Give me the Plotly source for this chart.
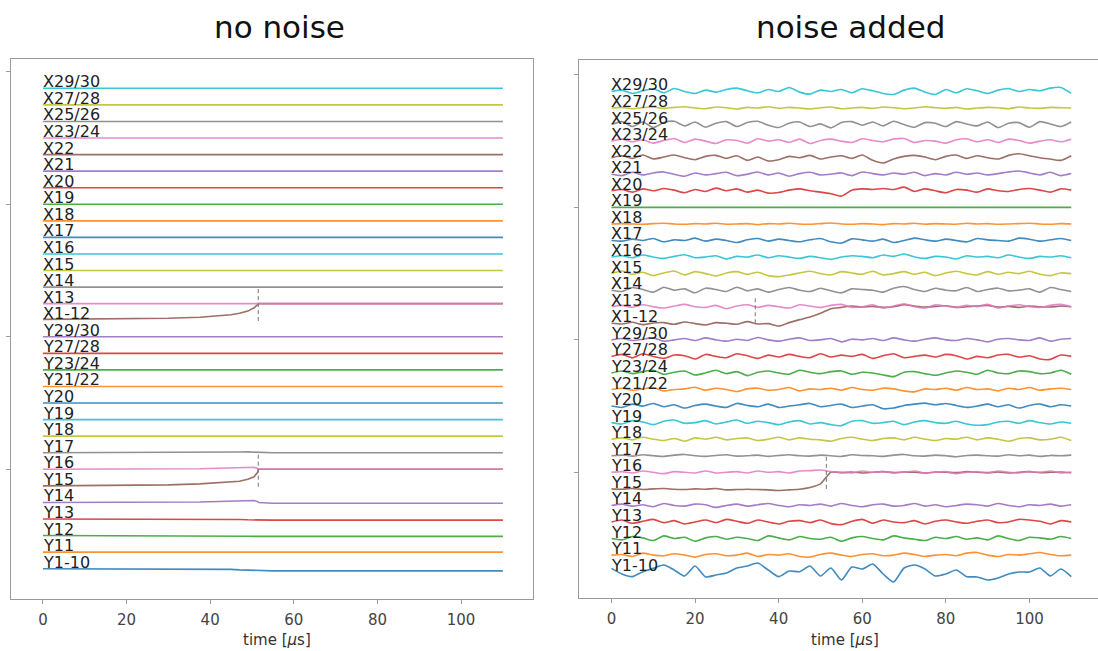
import plotly.graph_objects as go

# ---------------- data ----------------
labels = ["Y1-10", "Y11", "Y12", "Y13", "Y14", "Y15", "Y16", "Y17", "Y18", "Y19",
          "Y20", "Y21/22", "Y23/24", "Y27/28", "Y29/30", "X1-12", "X13", "X14", "X15", "X16",
          "X17", "X18", "X19", "X20", "X21", "X22", "X23/24", "X25/26", "X27/28", "X29/30"]

x_ticks = [0, 20, 40, 60, 80, 100]
y_ticks = [6, 14, 22, 30]

# ---- "no noise" panel (offset from each channel's baseline, in trace-spacing units)
t_clean = [0, 20, 30, 37.5, 42, 45, 47, 49, 50.5, 51.3, 51.6, 55, 110]
clean_flat = [0, 0, 0, 0, 0, 0, 0, 0, 0, 0, 0, 0, 0]
clean_Y1_10 = [0, 0, 0, 0, -0.02, -0.04, -0.07, -0.09, -0.11, -0.12, -0.12, -0.13, -0.13]
clean_Y12 = [0, 0, 0, 0, -0.01, -0.02, -0.03, -0.04, -0.05, -0.05, -0.05, -0.05, -0.05]
clean_Y13 = [0, 0, 0, 0, -0.01, -0.02, -0.03, -0.05, -0.06, -0.07, -0.07, -0.07, -0.07]
clean_Y14 = [0, 0, 0.01, 0.03, 0.06, 0.08, 0.12, 0.15, 0.12, 0.05, 0.0, -0.05, -0.05]
clean_Y15 = [0.0, 0.03, 0.06, 0.12, 0.18, 0.22, 0.28, 0.4, 0.55, 0.8, 1.0, 1.0, 1.0]
clean_Y16 = [0, 0, 0.01, 0.03, 0.06, 0.08, 0.11, 0.13, 0.12, 0.05, 0, 0, 0]
clean_Y17 = [0, 0, 0, 0.01, 0.02, 0.03, 0.04, 0.05, 0.04, 0.02, 0, 0, 0]
clean_X1_12 = [0.05, 0.08, 0.12, 0.18, 0.26, 0.33, 0.42, 0.55, 0.75, 0.95, 1.0, 1.0, 1.0]

clean_markers_t = [51.5, 51.5]
clean_markers_lo = [14.95, 4.95]
clean_markers_hi = [17.0, 7.0]

# ---- "noise added" panel (noise units; 1 unit = 0.02 trace spacing)
NOISE_UNIT = 0.02
t_noise = [0, 2.5, 5, 7.5, 10, 12.5, 15, 17.5, 20, 22.5, 25, 27.5, 30, 32.5, 35,
           37.5, 40, 42.5, 45, 47.5, 50, 52.5, 55, 57.5, 60, 62.5, 65, 67.5, 70, 72.5,
           75, 77.5, 80, 82.5, 85, 87.5, 90, 92.5, 95, 97.5, 100, 102.5, 105, 107.5, 110]

noise_Y1_10 = [10, -7, -15, 0, 10, 20, 5, -13, 17, -16, -10, -4, 11, 17, 26,
               5, -15, 2, 0, 17, -13, 11, -25, 14, 8, 23, -7, -31, 11, 20,
               8, -13, -7, 5, -15, -16, -25, -19, -7, -1, -1, 11, -13, 8, -15]
noise_Y11 = [0, 2, -4, 6, 0, -2, 4, 0, -6, 2, 4, -2, 0, 6, -4,
             2, 0, 4, -4, -6, 2, 6, 0, -4, 2, 4, -2, 0, 6, 2,
             -4, 0, 2, -2, 6, 8, 0, -4, 2, 0, 4, 8, 2, -2, 0]
noise_Y12 = [0, -4, 6, 2, -6, 8, 0, 4, -8, 2, 6, -2, 4, 0, -6,
             8, 2, -4, 6, 0, -2, 4, -8, 2, 6, 0, -4, 8, 2, -2,
             -6, 4, 0, 6, -2, 2, -4, 8, 0, -6, 4, 2, -2, 6, 0]
noise_Y13 = [0, 6, -4, 2, 8, -2, 4, -6, 0, 6, -2, 8, 2, -4, 6,
             0, -6, 2, 4, -2, 6, -5, -8, 2, 8, -4, 6, 0, -2, 4,
             -6, 2, 6, 0, -4, 2, 6, -2, 0, 8, 6, 2, -6, 4, 0]
noise_Y14 = [0, 4, -2, 2, -4, 6, 0, -2, 4, 2, -6, 0, 4, -2, 2,
             6, 0, -4, 2, 0, 4, -2, 6, 0, -4, 2, 4, -2, 0, 6,
             -2, 2, -4, 0, 4, 2, -2, 6, 0, -4, 2, 0, 4, -2, 2]
noise_Y15 = [0, -1, 1, -2, 0, 1, -1, -2, 0, -1, 1, -3, -2, -1, -2,
             -3, -5, -3, -1, 4, 15, 50, 49, 51, 48, 50, 52, 49, 51, 50,
             48, 51, 50, 49, 52, 50, 49, 51, 48, 50, 52, 49, 50, 51, 49]
noise_Y16 = [0, 2, -2, 4, 0, -4, 2, 0, -2, 4, -2, 0, 2, -2, 4,
             0, 2, -2, 4, 5, 7, 2, 0, -2, 4, 0, 2, -2, 0, 4,
             -2, 0, 2, -4, 0, 2, -2, 4, 0, -2, 2, 0, 4, -2, 0]
noise_Y17 = [0, 2, -1, 3, 0, -2, 2, 4, 0, -2, 1, 3, -1, 0, 2,
             -2, 1, 3, 0, -1, 2, 0, -2, 3, 1, 0, -2, 2, 4, 0,
             -1, 2, 0, -3, 1, 2, 0, -1, 3, 0, 2, -2, 1, 0, 2]
noise_Y18 = [0, 4, -2, 6, 0, -4, 2, -6, 4, 0, 6, -2, 2, 4, -4,
             0, 6, -2, 4, 0, -2, -6, 2, 6, 0, -4, 2, 4, -2, 6,
             0, -4, 2, 0, 6, -2, 4, 0, -6, 2, 4, -2, 0, 6, -4]
noise_Y19 = [0, -4, 6, 2, -6, 4, 8, -2, 0, 6, -4, 2, 8, -2, 4,
             0, -6, 2, 6, -4, 0, -6, -9, 4, 6, -2, 0, 4, -6, 2,
             6, 0, -2, 4, -4, -8, -6, 2, 4, -2, 6, 0, -4, 2, -2]
noise_Y20 = [0, -4, 6, 0, 8, -2, 4, -6, 2, 6, 0, -4, 8, 2, -2,
             6, -4, 0, 4, 8, -2, 2, 6, -4, 0, 4, -8, -6, 2, 6,
             9, 4, 8, 2, -4, 0, 6, -2, 4, -6, 2, 6, -2, 4, 0]
noise_Y21_22 = [0, 4, -2, 2, 6, -4, 0, 2, 7, -2, 4, 0, -6, 2, 4,
                -2, 0, 6, -4, 2, 0, 4, -2, 6, 0, -2, 4, 2, -4, -7,
                2, 0, 4, -2, 6, 0, 2, -4, 4, 0, 6, -2, 2, 4, 0]
noise_Y23_24 = [0, 6, -2, 4, 8, -4, 2, 6, -6, 0, 8, -2, 4, -8, 2,
                6, 0, -4, 8, 2, -2, 4, 6, -4, 2, 0, -6, -11, 2, 4,
                -2, -7, 0, 6, 2, -4, 8, 0, -2, 6, 4, -2, 0, 8, -4]
noise_Y27_28 = [0, 6, -4, 8, 0, -6, 4, 2, -8, 6, 0, -4, 8, 2, -6,
                4, -2, 6, 0, -4, 8, -2, 4, 0, 6, -6, 2, 8, -4, 0,
                4, -2, 6, 2, -8, 0, -4, 4, 6, -2, 2, -8, -9, 4, 0]
noise_Y29_30 = [0, 4, -2, 2, 6, -4, 0, 4, -2, 6, 0, -4, 2, -2, 7,
                0, -4, 2, 6, -2, 0, 4, -6, 2, 0, 4, -2, 6, 0, -4,
                2, 6, 0, -2, 4, 0, -6, 2, 4, 0, -2, 6, -4, 2, 4]
noise_X1_12 = [0, -2, 3, -4, 1, 2, -3, 4, -1, -5, 2, 0, -3, 5, -2,
               -1, -8, 2, 11, 19, 30, 44, 48, 52, 49, 51, 48, 50, 56, 52,
               49, 51, 53, 48, 50, 52, 54, 49, 51, 48, 52, 50, 49, 52, 50]
noise_X13 = [0, 4, -2, 6, 0, -4, 2, 7, 0, -2, 4, -6, 2, 6, -2,
             4, 0, -4, 6, 2, -2, 4, 7, -2, 0, 6, -4, 2, 9, 0,
             -4, 6, 2, -2, 4, 0, 7, -4, 2, 6, 0, -2, 4, 7, 0]
noise_X14 = [0, -4, 8, 2, -6, 9, 0, 4, -8, 6, 2, -4, 9, -2, 4,
             -6, 2, 8, 0, -4, 6, -2, -8, 4, 2, 0, -6, 6, 11, 2,
             -4, 6, 0, -2, 8, -4, 2, 6, -2, 0, 4, -6, 8, 2, -4]
noise_X15 = [0, 8, -2, 4, -6, 2, 8, -4, 6, 0, -7, 2, 6, -2, 4,
             -6, -9, -4, 2, 7, 0, -4, 6, 2, -2, 7, -4, 0, 6, -2,
             4, -6, 2, 7, 0, -4, 6, -2, 4, 0, 7, -2, -6, 2, 0]
noise_X16 = [0, 4, -2, 6, 0, -4, 2, 7, -2, 0, 4, -6, 2, 0, 6,
             -2, 4, 0, -4, 2, -2, -7, 0, 4, 2, -2, 6, 2, 9, 0,
             -4, 2, 0, -6, 4, 0, 2, -2, 6, 0, -4, 2, 0, 4, -2]
noise_X17 = [0, -2, 4, 0, 6, -4, 2, 0, 7, -2, 4, 0, -6, 2, 6,
             -2, 4, 0, -4, 2, 6, -4, -8, 5, 2, -2, 4, -6, 0, 7,
             2, -2, 4, 0, -4, 6, 2, 0, -2, 7, 4, -2, 2, 6, 0]
noise_X18 = [0, 1, 0, -1, 1, 2, 0, -1, 1, 0, 2, -1, 0, 1, -2,
             1, 0, 2, 0, -1, 1, 3, 0, -1, 1, 0, -2, 1, 0, 2,
             -1, 1, 0, -1, 2, 0, 1, -1, 0, 1, 2, 0, -1, 1, 0]
noise_X19 = [0, 0, 0, 0, 0, 0, 0, 0, 0, 0, 0, 0, 0, 0, 0,
             0, 0, 0, 0, 0, 0, 0, 0, 0, 0, 0, 0, 0, 0, 0,
             0, 0, 0, 0, 0, 0, 0, 0, 0, 0, 0, 0, 0, 0, 0]
noise_X20 = [0, 4, -4, 6, 0, 7, 2, -6, 4, -2, 8, 0, 6, -4, 2,
             -7, -5, 2, 6, 0, -4, -9, -16, 2, 6, 4, 7, 4, 11, -2,
             6, 0, -6, 4, 2, -4, 6, 0, -2, 4, 7, 2, -4, 6, 2]
noise_X21 = [0, -4, 6, -2, 4, 7, 0, -6, 4, -2, 2, 6, -4, 0, 7,
             -2, 4, -6, 2, 6, -2, 0, 4, -4, 7, 2, -2, 4, 0, 6,
             -4, 2, -2, 6, 0, 4, -2, 2, 7, 10, 4, -2, 6, -4, 2]
noise_X22 = [0, 6, -2, 8, -4, 2, 8, 0, -6, 4, 7, -2, 6, -8, 2,
             -10, -6, 4, 0, 7, -4, 2, 6, -2, 8, -8, -16, -4, 4, 7,
             2, -6, 4, 8, -2, 6, 0, -4, 7, 12, 6, 0, -4, -8, 6]
noise_X23_24 = [0, 6, -2, 4, -6, 2, 8, -4, 6, 0, -7, 4, 2, -6, 7,
                0, 4, -4, 6, -7, 2, 6, 0, -4, 7, 2, -2, 6, 8, -4,
                2, 0, -6, 4, 7, -2, 4, -4, 6, 2, -6, 0, 4, -2, 6]
noise_X25_26 = [0, 9, -6, 8, -9, 6, 10, -4, 8, -8, 4, 9, -6, 6, 10,
                -2, -9, 4, 8, -6, 2, -10, 6, 9, -2, 8, -4, 10, 0, -8,
                6, 4, -6, 9, 2, -4, 8, -9, 4, 6, -8, 9, 2, -6, 8]
noise_X27_28 = [0, 2, -2, 1, 3, -1, 2, 4, 0, -2, 3, 1, -3, 2, 0,
                4, -1, 2, 0, -3, 1, 3, -2, 0, 2, -1, 3, 1, -2, 0,
                4, 1, -1, 2, -3, 0, 2, 1, -2, 3, 0, -1, 2, 1, 0]
noise_X29_30 = [0, 4, -6, 2, 8, -4, 9, 0, -6, 4, -2, 6, 10, 2, -4,
                6, 0, 12, -2, -8, 4, 0, 6, -4, 8, 2, -6, -9, 4, 10,
                -2, -9, 6, -4, 8, 2, -6, 4, 9, 0, 6, 2, 10, 12, -6]

noisy_markers_t = [34.4, 51.4]
noisy_markers_lo = [15.0, 5.0]
noisy_markers_hi = [16.6, 7.0]

# ---------------- mapping ----------------
clean_by_label = {lab: clean_flat for lab in labels}
clean_by_label.update({"Y1-10": clean_Y1_10, "Y12": clean_Y12, "Y13": clean_Y13,
                       "Y14": clean_Y14, "Y15": clean_Y15, "Y16": clean_Y16,
                       "Y17": clean_Y17, "X1-12": clean_X1_12})
noisy_list = [noise_Y1_10, noise_Y11, noise_Y12, noise_Y13, noise_Y14, noise_Y15,
              noise_Y16, noise_Y17, noise_Y18, noise_Y19, noise_Y20, noise_Y21_22,
              noise_Y23_24, noise_Y27_28, noise_Y29_30, noise_X1_12, noise_X13,
              noise_X14, noise_X15, noise_X16, noise_X17, noise_X18, noise_X19,
              noise_X20, noise_X21, noise_X22, noise_X23_24, noise_X25_26,
              noise_X27_28, noise_X29_30]

tab10 = ["#1f77b4", "#ff7f0e", "#2ca02c", "#d62728", "#9467bd",
         "#8c564b", "#e377c2", "#7f7f7f", "#bcbd22", "#17becf"]

FONT = "DejaVu Sans"
fig = go.Figure()

for i, lab in enumerate(labels):
    fig.add_trace(go.Scatter(
        x=t_clean, y=[i + v for v in clean_by_label[lab]], mode="lines",
        line=dict(color=tab10[i % 10], width=1.6), opacity=0.85,
        xaxis="x", yaxis="y", showlegend=False, hoverinfo="skip"))

for i, lab in enumerate(labels):
    vals = noisy_list[i]
    fig.add_trace(go.Scatter(
        x=t_noise[:len(vals)], y=[i + v * NOISE_UNIT for v in vals], mode="lines",
        line=dict(color=tab10[i % 10], width=1.6, shape="spline", smoothing=0.6),
        opacity=0.85, xaxis="x2", yaxis="y2", showlegend=False, hoverinfo="skip"))

for tt, lo, hi in zip(clean_markers_t, clean_markers_lo, clean_markers_hi):
    fig.add_trace(go.Scatter(x=[tt, tt], y=[lo, hi], mode="lines",
                             line=dict(color="#777777", width=1, dash="4px,3px"),
                             xaxis="x", yaxis="y", showlegend=False, hoverinfo="skip"))
for tt, lo, hi in zip(noisy_markers_t, noisy_markers_lo, noisy_markers_hi):
    fig.add_trace(go.Scatter(x=[tt, tt], y=[lo, hi], mode="lines",
                             line=dict(color="#777777", width=1, dash="4px,3px"),
                             xaxis="x2", yaxis="y2", showlegend=False, hoverinfo="skip"))

annotations = []
for ax in ("", "2"):
    for i, lab in enumerate(labels):
        annotations.append(dict(
            x=0, y=i, xref="x" + ax, yref="y" + ax, text=lab, showarrow=False,
            xanchor="left", yanchor="bottom", xshift=-2, yshift=-5,
            font=dict(family=FONT, size=16, color="#222222")))

annotations += [
    dict(text="no noise", x=279 / 1098, y=1 - 27 / 651, xref="paper", yref="paper",
         showarrow=False, xanchor="center", yanchor="middle",
         font=dict(family=FONT, size=31, color="#111111")),
    dict(text="noise added", x=850 / 1098, y=1 - 27 / 651, xref="paper", yref="paper",
         showarrow=False, xanchor="center", yanchor="middle",
         font=dict(family=FONT, size=31, color="#111111")),
    dict(text="time [<i>μ</i>s]", x=277 / 1098, y=1 - 640 / 651, xref="paper", yref="paper",
         showarrow=False, xanchor="center", yanchor="middle",
         font=dict(family=FONT, size=15, color="#333333")),
    dict(text="time [<i>μ</i>s]", x=845 / 1098, y=1 - 640 / 651, xref="paper", yref="paper",
         showarrow=False, xanchor="center", yanchor="middle",
         font=dict(family=FONT, size=15, color="#333333")),
]

axcol = "#9a9a9a"
xcommon = dict(showline=True, linecolor=axcol, linewidth=1, ticks="outside", ticklen=4,
               tickcolor=axcol, showgrid=False, zeroline=False, tickvals=x_ticks,
               ticklabelstandoff=3,
               tickfont=dict(family=FONT, size=15, color="#444444"), automargin=False)
ycommon = dict(showline=True, linecolor=axcol, linewidth=1, ticks="outside", ticklen=4,
               tickcolor=axcol, showgrid=False, zeroline=False, tickvals=y_ticks,
               showticklabels=False, automargin=False)

fig.update_layout(
    width=1098, height=651, margin=dict(l=0, r=0, t=0, b=0),
    paper_bgcolor="white", plot_bgcolor="white", showlegend=False,
    xaxis=dict(xcommon, domain=[10.5 / 1098, 533 / 1098], range=[-7.75, 117.2],
               mirror=True, anchor="y"),
    yaxis=dict(ycommon, domain=[52 / 651, 592 / 651], range=[-1.83, 30.77],
               mirror=True, anchor="x"),
    xaxis2=dict(xcommon, domain=[578.8 / 1098, 1.0], range=[-7.82, 116.4],
                mirror=True, anchor="y2"),
    yaxis2=dict(ycommon, domain=[53 / 651, 591 / 651], range=[-1.59, 30.9],
                anchor="x2"),
    annotations=annotations,
)

fig.write_html("out.html")
